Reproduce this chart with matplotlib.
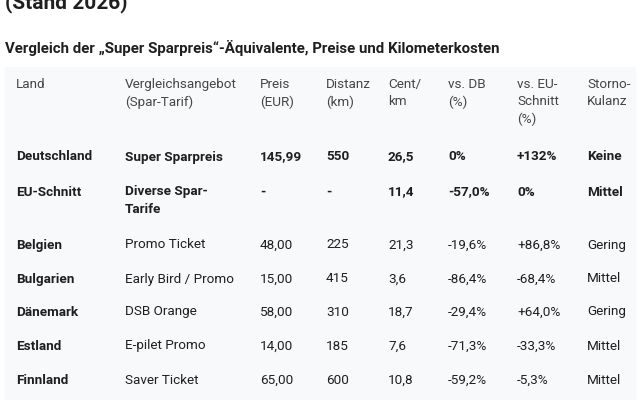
import matplotlib
matplotlib.use("Agg")
import matplotlib.pyplot as plt
from matplotlib.patches import Rectangle

title = "(Stand 2026)"
subtitle = "Vergleich der \u201eSuper Sparpreis\u201c-\u00c4quivalente, Preise und Kilometerkosten"
headers = ["Land", "Vergleichsangebot\n(Spar-Tarif)", "Preis\n(EUR)", "Distanz\n(km)",
           "Cent/\nkm", "vs. DB\n(%)", "vs. EU-\nSchnitt\n(%)", "Storno-\nKulanz"]
laender = ["Deutschland", "EU-Schnitt", "Belgien", "Bulgarien", "D\u00e4nemark", "Estland", "Finnland"]
angebote = ["Super Sparpreis", "Diverse Spar-\nTarife", "Promo Ticket", "Early Bird / Promo",
            "DSB Orange", "E-pilet Promo", "Saver Ticket"]
preise = ["145,99", "-", "48,00", "15,00", "58,00", "14,00", "65,00"]
distanz = ["550", "-", "225", "415", "310", "185", "600"]
cent = ["26,5", "11,4", "21,3", "3,6", "18,7", "7,6", "10,8"]
vs_db = ["0%", "-57,0%", "-19,6%", "-86,4%", "-29,4%", "-71,3%", "-59,2%"]
vs_eu = ["+132%", "0%", "+86,8%", "-68,4%", "+64,0%", "-33,3%", "-5,3%"]
storno = ["Keine", "Mittel", "Gering", "Mittel", "Gering", "Mittel", "Mittel"]

W, H = 640, 400
fig = plt.figure(figsize=(6.4, 4.0), dpi=100)
ax = fig.add_axes([0, 0, 1, 1])
ax.set_xlim(0, W); ax.set_ylim(H, 0); ax.axis("off")
fam = ["Roboto", "DejaVu Sans"]
ax.add_patch(Rectangle((5, 67), 630, 340, color="#f8f9fa", zorder=0))
ax.text(5, 3, title, fontsize=15, fontweight="bold", family=fam, va="center", color="#1f1f1f")
ax.text(5, 48, subtitle, fontsize=10.8, fontweight="bold", family=fam, va="center", color="#1f1f1f")

xs = [16, 125, 260, 326, 388, 448, 517, 587]
for x, h in zip(xs, headers):
    ax.text(x, 78, h, fontsize=9.7, family=fam, va="top", color="#444746", linespacing=1.4)

rows_y = [158, 193, 246, 280, 313, 347, 381]
for i, y in enumerate(rows_y):
    vals = [laender[i], angebote[i], preise[i], distanz[i], cent[i], vs_db[i], vs_eu[i], storno[i]]
    for j, (x, v) in enumerate(zip(xs, vals)):
        bold = (i < 2) or j == 0
        ax.text(x, y - 7.5, v, fontsize=9.7, family=fam, va="top", color="#1f1f1f",
                fontweight="bold" if bold else "normal", linespacing=1.45)

fig.savefig("out.png", dpi=100)
